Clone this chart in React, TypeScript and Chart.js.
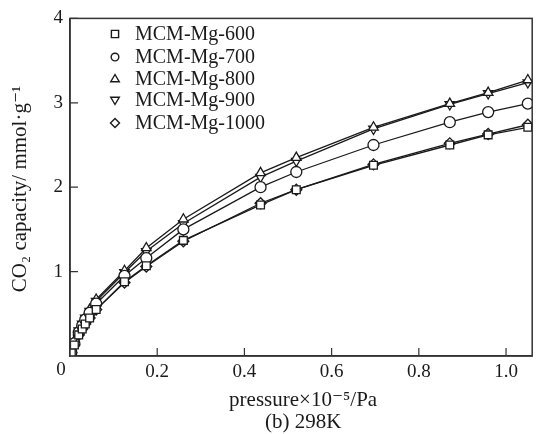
import React, { useEffect, useRef } from "react";
import { Chart, registerables } from "chart.js";

Chart.register(...registerables);

const pressure = [0.003, 0.01, 0.02, 0.028, 0.035, 0.045, 0.06, 0.125, 0.175, 0.26, 0.437, 0.519, 0.696, 0.871, 0.959, 1.05];
const mg600 = [0.04, 0.13, 0.25, 0.32, 0.38, 0.45, 0.55, 0.88, 1.07, 1.37, 1.79, 1.97, 2.26, 2.50, 2.62, 2.71];
const mg700 = [0.04, 0.15, 0.28, 0.36, 0.43, 0.51, 0.62, 0.95, 1.16, 1.50, 2.00, 2.18, 2.50, 2.77, 2.89, 2.99];
const mg800 = [0.05, 0.18, 0.31, 0.39, 0.46, 0.55, 0.67, 1.01, 1.28, 1.62, 2.17, 2.35, 2.71, 2.99, 3.12, 3.27];
const mg900 = [0.05, 0.17, 0.30, 0.38, 0.45, 0.53, 0.65, 0.99, 1.24, 1.57, 2.12, 2.31, 2.69, 2.98, 3.11, 3.24];
const mg1000 = [0.04, 0.13, 0.25, 0.32, 0.38, 0.45, 0.55, 0.87, 1.06, 1.36, 1.81, 1.97, 2.27, 2.52, 2.63, 2.74];

const seriesNames = ["MCM-Mg-600", "MCM-Mg-700", "MCM-Mg-800", "MCM-Mg-900", "MCM-Mg-1000"];
const xTicks = [0, 0.2, 0.4, 0.6, 0.8, 1.0];
const yTicks = [0, 1, 2, 3, 4];

const SERIF = "'Liberation Serif', 'DejaVu Serif', serif";
const INK = "#1a1a1a";

type Style = { style: string; rotation: number };
const styles: Style[] = [
  { style: "rect", rotation: 0 },
  { style: "circle", rotation: 0 },
  { style: "triangle", rotation: 0 },
  { style: "triangle", rotation: 180 },
  { style: "rectRot", rotation: 0 },
];

function drawMarker(ctx: CanvasRenderingContext2D, s: Style, x: number, y: number, r: number) {
  ctx.beginPath();
  if (s.style === "rect") {
    ctx.rect(x - r * 0.8, y - r * 0.8, r * 1.6, r * 1.6);
  } else if (s.style === "circle") {
    ctx.arc(x, y, r * 0.85, 0, Math.PI * 2);
  } else if (s.style === "triangle") {
    const dir = s.rotation === 180 ? -1 : 1;
    ctx.moveTo(x, y - dir * r);
    ctx.lineTo(x + r * 0.95, y + dir * r * 0.6);
    ctx.lineTo(x - r * 0.95, y + dir * r * 0.6);
    ctx.closePath();
  } else {
    ctx.moveTo(x, y - r);
    ctx.lineTo(x + r, y);
    ctx.lineTo(x, y + r);
    ctx.lineTo(x - r, y);
    ctx.closePath();
  }
  ctx.fillStyle = "#fff";
  ctx.fill();
  ctx.strokeStyle = INK;
  ctx.lineWidth = 1.4;
  ctx.stroke();
}

const decorPlugin = {
  id: "decor",
  afterDraw(chart: any) {
    const ctx: CanvasRenderingContext2D = chart.ctx;
    const { left, right, top, bottom } = chart.chartArea;
    const xs = chart.scales.x;
    const ys = chart.scales.y;
    ctx.save();
    // frame
    ctx.strokeStyle = "#333";
    ctx.lineWidth = 1.5;
    ctx.strokeRect(left, top, right - left, bottom - top);
    // inward ticks
    ctx.lineWidth = 1.2;
    ctx.beginPath();
    xTicks.forEach((v) => {
      if (v === 0) return;
      const px = xs.getPixelForValue(v);
      ctx.moveTo(px, bottom);
      ctx.lineTo(px, bottom - 8);
    });
    yTicks.forEach((v) => {
      if (v === 0) return;
      const py = ys.getPixelForValue(v);
      ctx.moveTo(left, py);
      ctx.lineTo(left + 8, py);
    });
    ctx.stroke();
    // origin label
    ctx.fillStyle = INK;
    ctx.font = `19px ${SERIF}`;
    ctx.textAlign = "center";
    ctx.textBaseline = "middle";
    ctx.fillText("0", left - 9, bottom + 14);
    // x title and caption
    ctx.font = `21px ${SERIF}`;
    const cx = (left + right) / 2;
    ctx.fillText("pressure×10⁻⁵/Pa", cx + 2, 400);
    ctx.fillText("(b) 298K", cx + 2, 422);
    // y title
    ctx.save();
    ctx.translate(20, 189);
    ctx.rotate(-Math.PI / 2);
    ctx.fillText("CO₂ capacity/ mmol·g⁻¹", 0, 0);
    ctx.restore();
    // legend
    const rows = [34, 57, 79, 100, 123];
    ctx.textAlign = "left";
    ctx.font = `20px ${SERIF}`;
    seriesNames.forEach((name, i) => {
      drawMarker(ctx, styles[i], 115, rows[i], 4.5);
      ctx.fillStyle = INK;
      ctx.fillText(name, 135, rows[i] + 1);
    });
    ctx.restore();
  },
};

export default function App() {
  const ref = useRef<HTMLCanvasElement | null>(null);
  useEffect(() => {
    document.body.style.margin = "0";
    const canvas = ref.current;
    if (!canvas) return;
    const allSeries = [mg600, mg700, mg800, mg900, mg1000];
    const chart = new Chart(canvas, {
      type: "line",
      data: {
        datasets: allSeries.map((vals, i) => ({
          label: seriesNames[i],
          data: pressure.map((p, j) => ({ x: p, y: vals[j] })),
          borderColor: INK,
          borderWidth: 1.3,
          pointStyle: styles[i].style as any,
          pointRotation: styles[i].rotation,
          pointRadius: 5.5,
          pointBorderWidth: 1.3,
          pointBackgroundColor: "#fff",
          pointBorderColor: INK,
          fill: false,
          tension: 0,
        })),
      },
      options: {
        animation: false,
        responsive: true,
        maintainAspectRatio: false,
        layout: { padding: { top: 15, right: 1, left: 0, bottom: 0 } },
        plugins: { legend: { display: false }, tooltip: { enabled: false } },
        scales: {
          x: {
            type: "linear",
            min: 0,
            max: 1.06,
            afterBuildTicks: (s: any) => {
              s.ticks = xTicks.map((v) => ({ value: v }));
            },
            afterFit: (s: any) => {
              s.height = 78;
            },
            ticks: {
              padding: 5,
              color: INK,
              font: { family: SERIF, size: 19 },
              maxRotation: 0,
              autoSkip: false,
              callback: (v: any) => (Number(v) === 0 ? "" : Number(v).toFixed(1)),
            },
            grid: { drawOnChartArea: false, drawTicks: false },
            border: { display: true, color: "#333", width: 1.5 },
          },
          y: {
            type: "linear",
            min: 0,
            max: 4,
            afterBuildTicks: (s: any) => {
              s.ticks = yTicks.map((v) => ({ value: v }));
            },
            afterFit: (s: any) => {
              s.width = 70;
            },
            ticks: {
              padding: 7,
              color: INK,
              font: { family: SERIF, size: 19 },
              autoSkip: false,
              callback: (v: any) => (Number(v) === 0 ? "" : String(v)),
            },
            grid: { drawOnChartArea: false, drawTicks: false },
            border: { display: true, color: "#333", width: 1.5 },
          },
        },
      },
      plugins: [decorPlugin],
    });
    return () => chart.destroy();
  }, []);
  return (
    <div style={{ width: 539, height: 434, position: "relative" }}>
      <canvas ref={ref} />
    </div>
  );
}
